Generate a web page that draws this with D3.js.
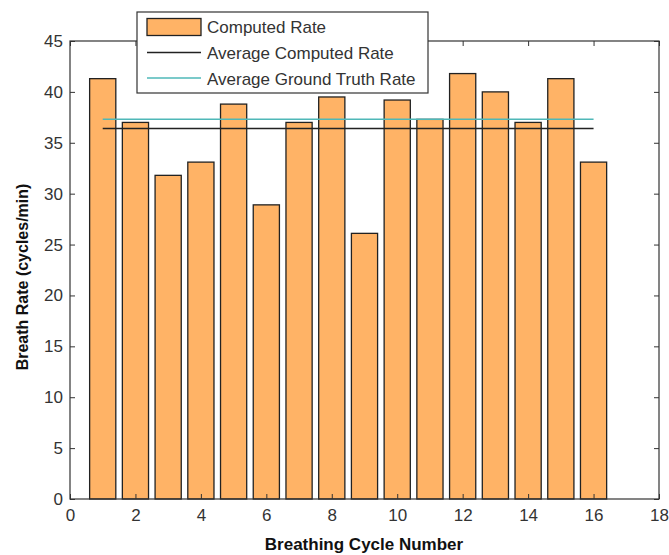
<!DOCTYPE html>
<html lang="en">
<head>
    <meta charset="UTF-8">
    <title>breath rate</title>
    <script src="https://cdn.jsdelivr.net/npm/d3@7/dist/d3.min.js"></script>
    <style>
        body { margin: 0; background: #fff; }
        svg { display: block; font-family: "Liberation Sans", Arial, sans-serif; }
        svg .tick text { fill: #333; font-size: 17px; }
        svg .tick line { stroke: #333; }
        svg .frame { fill: none; stroke: #333; stroke-width: 1.2; }
        svg .bar { fill: #ffb366; stroke: #222; stroke-width: 1.3; }
        svg .avg-computed { stroke: #222; stroke-width: 1.5; }
        svg .avg-truth { stroke: #4fb8b8; stroke-width: 1.5; }
        svg .axis-label { font-weight: bold; font-size: 16px; fill: #111; }
        svg .legend-box { fill: #fff; stroke: #333; stroke-width: 1.2; }
        svg .legend-text { font-size: 17px; fill: #333; }
    </style>
</head>
<body>
    <svg width="669" height="555"></svg>
    <script>
        var cycles = d3.range(1, 17),
            computedRate = [41.3, 37, 31.8, 33.1, 38.8, 28.9, 37, 39.5, 26.1, 39.2, 37.3, 41.8, 40, 37, 41.3, 33.1],
            avgComputed = 36.4,
            avgTruth = 37.3,
            xTicks = d3.range(0, 19, 2),
            yTicks = d3.range(0, 46, 5),
            legendLabels = ['Computed Rate', 'Average Computed Rate', 'Average Ground Truth Rate'];

        var svg = d3.select('svg'),
            plotLeft = 70, plotRight = 659, plotTop = 41, plotBottom = 499;

        var x = d3.scaleLinear().domain([0, 18]).range([plotLeft, plotRight]),
            y = d3.scaleLinear().domain([0, 45]).range([plotBottom, plotTop]),
            barW = x(0.8) - x(0);

        // bars
        svg.selectAll('.bar')
            .data(computedRate)
            .enter().append('rect')
            .classed('bar', true)
            .attr('x', function(d, i) { return x(cycles[i]) - barW / 2; })
            .attr('y', function(d) { return y(d); })
            .attr('width', barW)
            .attr('height', function(d) { return y(0) - y(d); });

        // average lines
        svg.append('line')
            .classed('avg-truth', true)
            .attr('x1', x(1)).attr('x2', x(16))
            .attr('y1', y(avgTruth)).attr('y2', y(avgTruth));
        svg.append('line')
            .classed('avg-computed', true)
            .attr('x1', x(1)).attr('x2', x(16))
            .attr('y1', y(avgComputed)).attr('y2', y(avgComputed));

        // axes, ticks pointing inward, mirrored on top/right
        svg.append('g')
            .attr('transform', 'translate(0,' + plotBottom + ')')
            .call(d3.axisBottom(x).tickValues(xTicks).tickSizeInner(-5).tickSizeOuter(0).tickPadding(10))
            .call(function(g) { g.select('.domain').remove(); });
        svg.append('g')
            .attr('transform', 'translate(0,' + plotTop + ')')
            .call(d3.axisTop(x).tickValues(xTicks).tickSizeInner(-5).tickSizeOuter(0).tickFormat(''))
            .call(function(g) { g.select('.domain').remove(); });
        svg.append('g')
            .attr('transform', 'translate(' + plotLeft + ',0)')
            .call(d3.axisLeft(y).tickValues(yTicks).tickSizeInner(-5).tickSizeOuter(0).tickPadding(7))
            .call(function(g) { g.select('.domain').remove(); });
        svg.append('g')
            .attr('transform', 'translate(' + plotRight + ',0)')
            .call(d3.axisRight(y).tickValues(yTicks).tickSizeInner(-5).tickSizeOuter(0).tickFormat(''))
            .call(function(g) { g.select('.domain').remove(); });

        svg.append('rect')
            .classed('frame', true)
            .attr('x', plotLeft).attr('y', plotTop)
            .attr('width', plotRight - plotLeft).attr('height', plotBottom - plotTop);

        // axis labels
        svg.append('text')
            .classed('axis-label', true)
            .attr('x', 364)
            .attr('y', 550)
            .attr('text-anchor', 'middle')
            .style('font-size', '17px')
            .text('Breathing Cycle Number');
        svg.append('text')
            .classed('axis-label', true)
            .attr('transform', 'translate(28,277) rotate(-90)')
            .attr('text-anchor', 'middle')
            .text('Breath Rate (cycles/min)');

        // legend
        var legend = svg.append('g').attr('transform', 'translate(137,12)');
        legend.append('rect')
            .classed('legend-box', true)
            .attr('width', 291).attr('height', 81);
        legend.append('rect')
            .classed('bar', true)
            .attr('x', 10).attr('y', 6.5)
            .attr('width', 54).attr('height', 17);
        legend.append('line')
            .classed('avg-computed', true)
            .attr('x1', 10).attr('x2', 64).attr('y1', 40.5).attr('y2', 40.5);
        legend.append('line')
            .classed('avg-truth', true)
            .attr('x1', 10).attr('x2', 64).attr('y1', 66).attr('y2', 66);
        legend.selectAll('.legend-text')
            .data(legendLabels)
            .enter().append('text')
            .classed('legend-text', true)
            .attr('x', 70)
            .attr('y', function(d, i) { return 15 + i * 26; })
            .attr('dy', '0.35em')
            .text(function(d) { return d; });
    </script>
</body>
</html>
